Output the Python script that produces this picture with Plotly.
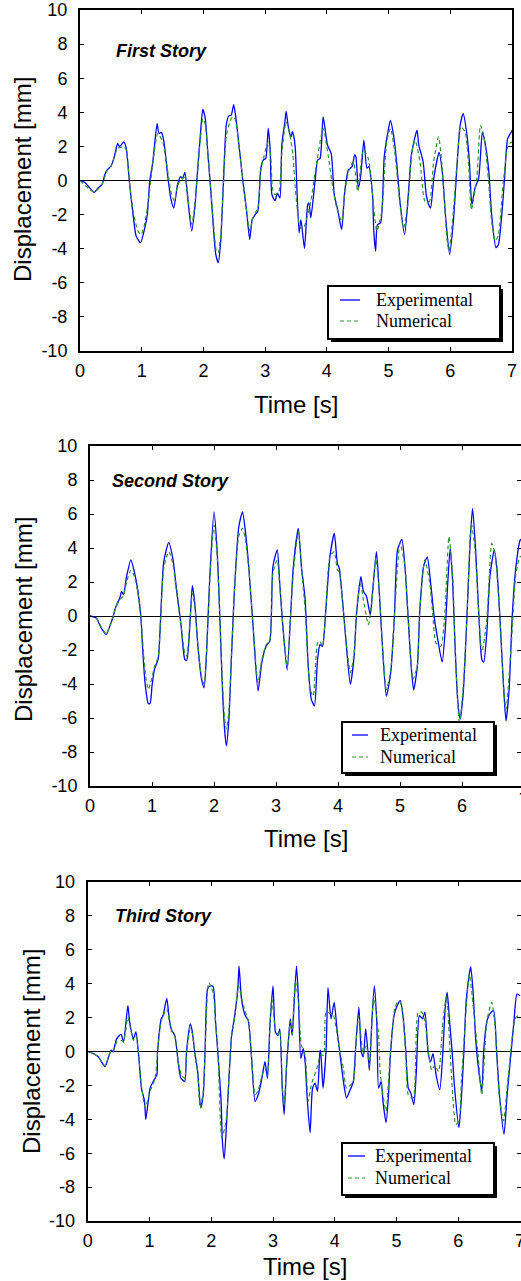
import plotly.graph_objects as go

# ---------------- data ----------------
t1_exp = [0, 0.076, 0.16, 0.23, 0.29, 0.36, 0.4, 0.44, 0.5, 0.55, 0.61, 0.64, 0.71, 0.75, 0.8, 0.86, 0.91, 0.98,
          1.05, 1.09, 1.13, 1.18, 1.25, 1.28, 1.32, 1.36, 1.42, 1.47, 1.52, 1.58, 1.63, 1.66, 1.70, 1.74, 1.81,
          1.86, 1.90, 1.95, 1.99, 2.03, 2.07, 2.12, 2.17, 2.20, 2.24, 2.28, 2.32, 2.37, 2.41, 2.45, 2.49, 2.52,
          2.57, 2.64, 2.70, 2.75, 2.79, 2.83, 2.88, 2.93, 2.97, 3.01, 3.05, 3.08, 3.11, 3.16, 3.20, 3.24, 3.27,
          3.32, 3.34, 3.38, 3.42, 3.44, 3.47, 3.49, 3.55, 3.58, 3.637, 3.69, 3.71, 3.74, 3.81, 3.85, 3.89, 3.94,
          4.01, 4.07, 4.12, 4.18, 4.24, 4.29, 4.35, 4.41, 4.45, 4.47, 4.51, 4.55, 4.6, 4.65, 4.68, 4.74, 4.76,
          4.79, 4.82, 4.87, 4.93, 4.99, 5.03, 5.08, 5.13, 5.19, 5.26, 5.32, 5.37, 5.46, 5.49, 5.56, 5.61, 5.65,
          5.68, 5.74, 5.82, 5.87, 5.93, 5.99, 6.05, 6.11, 6.16, 6.21, 6.27, 6.31, 6.35, 6.40, 6.46, 6.52, 6.56,
          6.62, 6.67, 6.74, 6.78, 6.83, 6.88, 6.93, 6.99, 7.0]
d1_exp = [0, -0.1, -0.45, -0.7, -0.45, -0.21, 0.33, 0.62, 0.85, 1.3, 2.17, 1.98, 2.27, 1.88, -0.06, -2.0, -3.26, -3.65,
          -2.78, -2.0, -0.06, 1.1, 3.34, 2.76, 2.82, 2.27, 0.33, -1.03, -1.61, -0.25, 0.23, 0.1, 0.47, -0.83, -2.97,
          -1.61, 0.33, 2.66, 4.17, 3.63, 1.69, -0.64, -3.17, -4.33, -4.82, -3.55, -0.45, 3.24, 3.79, 3.83, 4.45, 3.83,
          2.27, -0.06, -1.8, -3.46, -2.29, -2.04, -1.8, 0.72, 1.2, 1.3, 3.05, 1.88, -0.83, -1.18, -0.74, -1.03, 2.08,
          3.44, 4.06, 3.05, 2.56, 2.86, 2.47, 1.79, -3.07, -2.29, -3.98, -1.42, -1.32, -2.19, 0.0, 1.2, 1.3, 3.73,
          2.08, 1.59, -0.83, -1.8, -2.87, -0.64, 0.62, 0.82, 1.5, 1.4, -0.45, 0.33, 2.37, 0.72, 0.82, -0.83, -2.97,
          -4.14, -2.58, -2.49, 1.4, 2.85, 3.53, 2.66, 1.1, -1.42, -3.17, -0.83, 1.5, 2.95, 2.08, 1.1, -0.83, -1.42,
          -1.61, 0.33, 1.65, 0.52, -2.39, -4.33, -2.39, 0.91, 3.24, 3.92, 2.66, 1.1, -1.42, -0.45, 0.14, 2.85, 2.27,
          0.72, -2.0, -3.94, -3.75, -2.19, 0.14, 2.47, 2.85, 2.95]

t1_num = [0, 0.23, 0.36, 0.44, 0.5, 0.61, 0.71, 0.75, 0.80, 0.86, 0.94, 0.99, 1.05, 1.1, 1.18, 1.26, 1.34, 1.42,
          1.47, 1.53, 1.58, 1.64, 1.70, 1.74, 1.81, 1.86, 1.9, 1.95, 1.99, 2.03, 2.07, 2.12, 2.17, 2.21, 2.24,
          2.28, 2.32, 2.37, 2.45, 2.49, 2.53, 2.57, 2.64, 2.7, 2.75, 2.8, 2.88, 2.93, 2.98, 3.05, 3.09, 3.12, 3.16,
          3.22, 3.27, 3.34, 3.4, 3.45, 3.49, 3.57, 3.62, 3.73, 3.82, 3.94, 4.02, 4.1, 4.16, 4.24, 4.29, 4.36, 4.43,
          4.5, 4.59, 4.67, 4.74, 4.81, 4.89, 4.97, 5.03, 5.10, 5.17, 5.24, 5.30, 5.38, 5.43, 5.51, 5.59, 5.66,
          5.73, 5.81, 5.86, 5.95, 5.98, 6.05, 6.11, 6.17, 6.24, 6.3, 6.34, 6.43, 6.49, 6.55, 6.62, 6.67, 6.73,
          6.78, 6.86, 6.94, 7.0]
d1_num = [0, -0.68, -0.2, 0.58, 0.8, 1.88, 1.98, 1.8, -0.06, -1.8, -2.97, -3.17, -2.5, -1.42, 1.0, 2.76, 2.27, 0.6,
          -0.6, -1.22, -0.3, 0.04, 0.2, -0.7, -2.58, -1.5, 0.3, 2.4, 3.63, 3.3, 1.6, -0.5, -2.8, -4.14, -4.23,
          -3.2, -0.5, 2.6, 3.63, 3.75, 3.4, 2.2, 0.0, -1.8, -2.97, -2.2, -1.61, 0.6, 1.4, 2.27, 1.5, -0.5, -0.83,
          -0.7, 1.6, 3.44, 2.7, 1.5, -0.5, -2.78, -2.78, -1.42, 0.72, 3.05, 1.5, -0.5, -1.61, -2.39, -0.64, 0.6, 1.1,
          -0.64, 1.79, 1.3, -0.83, -2.97, -1.8, 2.27, 3.05, 1.69, -0.9, -2.78, -1.8, 1.69, 2.37, 1.1, -1.22, -1.22,
          1.1, 2.56, 1.1, -3.55, -4.14, -1.8, 1.1, 3.15, 2.85, 0.72, -1.71, 0.14, 3.24, 2.47, -0.06, -2.39, -3.55,
          -3.17, -0.06, 2.08, 2.27]

t2_exp = [0, 0.1, 0.18, 0.26, 0.32, 0.37, 0.42, 0.48, 0.51, 0.54, 0.59, 0.66, 0.72, 0.77, 0.82, 0.85, 0.89, 0.94,
          0.97, 1.0, 1.04, 1.1, 1.14, 1.19, 1.27, 1.34, 1.39, 1.47, 1.53, 1.56, 1.61, 1.65, 1.69, 1.74, 1.8, 1.84,
          1.88, 1.93, 2.0, 2.05, 2.09, 2.13, 2.17, 2.2, 2.24, 2.28, 2.33, 2.4, 2.46, 2.51, 2.56, 2.63, 2.71, 2.77,
          2.84, 2.9, 2.95, 3.02, 3.06, 3.11, 3.18, 3.24, 3.28, 3.36, 3.41, 3.47, 3.52, 3.57, 3.62, 3.67, 3.71,
          3.75, 3.8, 3.87, 3.94, 3.99, 4.02, 4.09, 4.14, 4.2, 4.26, 4.3, 4.37, 4.41, 4.46, 4.52, 4.56, 4.62, 4.66,
          4.72, 4.78, 4.85, 4.91, 4.96, 5.03, 5.08, 5.13, 5.18, 5.22, 5.28, 5.32, 5.38, 5.44, 5.5, 5.55, 5.61,
          5.68, 5.73, 5.77, 5.81, 5.85, 5.89, 5.93, 5.97, 6.02, 6.08, 6.13, 6.17, 6.22, 6.27, 6.32, 6.35, 6.4,
          6.45, 6.52, 6.56, 6.61, 6.67, 6.71, 6.76, 6.81, 6.87, 6.94, 6.97, 7.0]
d2_exp = [0, -0.12, -0.7, -1.09, -0.6, -0.06, 0.57, 1.05, 1.45, 1.25, 2.32, 3.3, 2.52, 1.54, -0.02, -1.97, -4.02,
          -5.14, -5.14, -4.12, -3.14, -2.52, -0.02, 3.2, 4.32, 3.3, 1.74, -0.6, -2.56, -2.6, -0.6, 1.78, 0.76, -1.78,
          -3.73, -4.22, -2.17, 2.13, 6.13, 3.89, 0.37, -3.73, -6.66, -7.64, -6.07, -2.56, 1.54, 5.25, 6.13, 4.86,
          2.91, -0.6, -4.41, -2.75, -1.78, -1.48, 2.91, 3.89, 1.93, -0.6, -3.18, 0.37, 2.91, 5.16, 2.91, 0.96,
          -2.95, -4.9, -5.29, -2.56, -1.68, -1.78, 0.18, 3.5, 4.86, 3.1, 2.81, 0.18, -1.97, -4.02, -2.36, 0.18, 2.32,
          1.45, 1.15, 0.08, 1.54, 3.79, 1.74, -1.97, -4.71, -3.34, -0.02, 3.89, 4.51, 2.91, -0.02, -2.95, -4.36,
          -2.95, 0.37, 2.91, 3.46, 1.74, -0.02, -1.39, -2.71, -0.8, 1.93, 3.98, 1.93, -1.97, -4.9, -6.07, -4.51,
          -0.02, 4.28, 6.33, 3.89, 0.18, -2.56, -2.71, -1.0, 2.32, 3.89, 2.91, -0.02, -4.12, -6.17, -4.32, -0.02,
          2.91, 4.47, 4.5, 4.4]

t2_num = [0, 0.1, 0.18, 0.26, 0.32, 0.37, 0.42, 0.48, 0.54, 0.59, 0.66, 0.72, 0.77, 0.82, 0.86, 0.9, 0.94, 0.98,
          1.04, 1.1, 1.14, 1.19, 1.27, 1.34, 1.39, 1.47, 1.53, 1.56, 1.61, 1.65, 1.69, 1.74, 1.8, 1.84, 1.88, 1.93,
          2.0, 2.05, 2.09, 2.13, 2.17, 2.2, 2.24, 2.28, 2.33, 2.4, 2.46, 2.51, 2.56, 2.63, 2.71, 2.77, 2.84, 2.9,
          2.95, 3.02, 3.06, 3.11, 3.18, 3.24, 3.28, 3.36, 3.41, 3.47, 3.55, 3.6, 3.67, 3.71, 3.75, 3.8, 3.87, 3.94,
          3.99, 4.02, 4.09, 4.14, 4.2, 4.26, 4.3, 4.36, 4.41, 4.49, 4.55, 4.61, 4.66, 4.72, 4.78, 4.85, 4.91, 5.0,
          5.08, 5.13, 5.21, 5.28, 5.32, 5.4, 5.48, 5.53, 5.58, 5.66, 5.72, 5.79, 5.85, 5.89, 5.96, 6.02, 6.08,
          6.15, 6.21, 6.27, 6.32, 6.4, 6.48, 6.53, 6.61, 6.67, 6.71, 6.8, 6.87, 6.94, 7.0]
d2_num = [0, -0.1, -0.65, -1.05, -0.6, -0.06, 0.55, 0.95, 1.2, 2.0, 2.7, 2.3, 1.4, -0.02, -2.0, -3.6, -4.32, -3.9,
          -3.0, -2.4, -0.1, 2.8, 3.79, 3.0, 1.6, -0.6, -2.2, -2.36, -0.4, 1.35, 0.6, -1.7, -3.6, -4.02, -2.0, 2.0,
          5.35, 3.6, 0.4, -3.4, -6.0, -6.66, -5.6, -2.4, 1.5, 4.7, 5.16, 4.4, 2.8, -0.5, -3.93, -2.6, -1.7, -1.45,
          2.5, 3.3, 1.8, -0.5, -2.95, 0.3, 2.6, 4.96, 2.9, 0.37, -4.32, -4.71, -1.58, -1.48, -1.78, 0.18, 3.5, 3.79,
          2.71, 2.6, 0.18, -1.8, -3.34, -2.2, 0.18, 1.93, 0.96, -0.51, 0.96, 3.4, 1.7, -1.9, -4.32, -3.2, -0.02, 4.28,
          2.91, -0.02, -3.73, -2.9, 0.37, 3.3, 1.93, 0.0, -1.58, -1.78, -0.02, 4.67, 2.32, -1.9, -6.46, -4.12, -0.02,
          5.45, 3.89, 0.18, -2.17, -0.21, 4.28, 3.69, -0.02, -4.12, -5.49, -1.39, 2.5, 3.5, 3.4]

t3_exp = [0, 0.09, 0.17, 0.28, 0.33, 0.38, 0.41, 0.47, 0.54, 0.58, 0.65, 0.68, 0.74, 0.78, 0.82, 0.87, 0.92, 0.94,
          0.98, 1.01, 1.06, 1.12, 1.13, 1.19, 1.22, 1.28, 1.32, 1.36, 1.41, 1.47, 1.51, 1.57, 1.6, 1.66, 1.69, 1.74,
          1.78, 1.83, 1.87, 1.9, 1.94, 1.98, 2.03, 2.07, 2.11, 2.16, 2.18, 2.21, 2.25, 2.29, 2.33, 2.38, 2.43,
          2.45, 2.49, 2.55, 2.6, 2.65, 2.71, 2.76, 2.81, 2.87, 2.91, 2.95, 3.0, 3.04, 3.08, 3.11, 3.15, 3.18, 3.22,
          3.26, 3.28, 3.31, 3.34, 3.38, 3.41, 3.45, 3.49, 3.52, 3.55, 3.6, 3.64, 3.68, 3.72, 3.76, 3.77, 3.81,
          3.86, 3.89, 3.94, 3.99, 4.04, 4.08, 4.14, 4.19, 4.24, 4.3, 4.34, 4.39, 4.43, 4.46, 4.5, 4.54, 4.56, 4.6,
          4.64, 4.68, 4.71, 4.75, 4.78, 4.83, 4.87, 4.9, 4.96, 5.01, 5.06, 5.11, 5.15, 5.19, 5.23, 5.28, 5.32,
          5.37, 5.42, 5.46, 5.51, 5.55, 5.59, 5.64, 5.7, 5.75, 5.79, 5.82, 5.86, 5.9, 5.94, 6.01, 6.05, 6.09, 6.13,
          6.2, 6.24, 6.28, 6.32, 6.38, 6.41, 6.46, 6.51, 6.57, 6.62, 6.67, 6.74, 6.79, 6.85, 6.9, 6.95, 7.0]
d3_exp = [0, -0.12, -0.31, -0.89, -0.41, 0.08, -0.02, 0.76, 1.01, 0.56, 2.7, 1.73, 0.76, 1.15, -0.02, -2.16, -2.94,
          -4.01, -2.94, -2.16, -1.77, -1.38, -0.02, 1.93, 2.12, 3.13, 1.93, 1.25, 0.95, -0.8, -1.58, -1.77, -0.02,
          1.63, 1.25, -0.21, -1.19, -3.33, -2.55, -0.02, 3.68, 3.87, 3.83, 1.73, -0.21, -2.94, -5.27, -6.34, -4.11,
          -1.38, 0.95, 2.12, 3.68, 5.04, 3.09, 2.12, 1.83, -0.21, -2.94, -2.55, -1.77, -0.6, -1.58, 1.54, 3.87, 1.15,
          0.95, 1.34, -2.16, -3.72, -0.8, 1.15, 1.93, 0.95, 2.7, 5.04, 3.29, -0.41, 0.18, -0.6, -2.55, -4.79, -2.16,
          -1.87, -2.35, -0.02, 0.08, -2.16, 0.18, 3.77, 1.93, 2.9, 1.15, -0.02, -1.77, -2.74, -2.35, -1.77, 0.37,
          2.61, -0.02, -0.31, 1.34, -0.21, -1.09, 1.73, 3.87, 1.73, -2.16, -1.77, -2.94, -4.2, -2.55, -0.21, 2.12,
          2.7, 3.0, 1.93, -0.02, -2.16, -2.45, -3.13, -1.19, 2.12, 1.93, 2.32, -0.02, -0.6, -0.12, -1.38, -2.26,
          -0.02, 2.7, 3.48, 1.73, -0.02, -2.16, -4.49, -2.74, -0.02, 3.09, 5.0, 3.48, 0.76, -0.8, -2.35, -0.02, 1.73,
          2.22, 2.41, -0.02, -2.74, -4.88, -2.55, -0.21, 1.73, 3.39, 3.29]

t3_num = [0, 0.09, 0.17, 0.28, 0.33, 0.38, 0.41, 0.47, 0.54, 0.58, 0.65, 0.68, 0.74, 0.78, 0.82, 0.87, 0.93, 0.97,
          1.01, 1.09, 1.13, 1.19, 1.28, 1.32, 1.36, 1.41, 1.47, 1.52, 1.57, 1.6, 1.66, 1.69, 1.74, 1.78, 1.82, 1.87,
          1.9, 1.96, 2.03, 2.07, 2.11, 2.17, 2.22, 2.25, 2.29, 2.33, 2.38, 2.44, 2.52, 2.6, 2.65, 2.71, 2.76, 2.81,
          2.87, 2.91, 2.95, 2.98, 3.04, 3.08, 3.11, 3.15, 3.18, 3.22, 3.26, 3.28, 3.31, 3.36, 3.41, 3.46, 3.52,
          3.57, 3.62, 3.71, 3.77, 3.82, 3.86, 3.94, 3.97, 4.04, 4.08, 4.14, 4.19, 4.3, 4.34, 4.39, 4.46, 4.51,
          4.56, 4.63, 4.71, 4.73, 4.78, 4.83, 4.89, 4.97, 5.03, 5.08, 5.15, 5.19, 5.27, 5.35, 5.41, 5.46, 5.53,
          5.57, 5.62, 5.68, 5.75, 5.81, 5.87, 5.96, 6.01, 6.05, 6.13, 6.18, 6.24, 6.32, 6.38, 6.45, 6.48, 6.54,
          6.6, 6.66, 6.73, 6.81, 6.92, 6.97, 7.0]
d3_num = [0, -0.12, -0.31, -0.85, -0.41, 0.05, 0.0, 0.56, 0.66, 0.6, 2.02, 1.6, 0.66, 0.9, -0.02, -2.0, -3.33, -2.9,
          -2.35, -1.58, -0.1, 1.8, 2.51, 1.8, 1.2, 0.9, -0.7, -1.38, -1.58, -0.1, 1.34, 1.1, -0.3, -1.2, -3.33, -2.4,
          -0.1, 4.07, 3.48, 1.7, -0.2, -5.08, -4.49, -3.8, -1.3, 0.9, 2.0, 3.87, 2.7, 1.8, -0.2, -2.55, -2.3, -1.6,
          -0.99, -1.4, 1.4, 3.09, 1.3, 1.0, 1.2, -2.0, -3.13, -0.8, 1.1, 1.8, 1.0, 4.16, 3.0, 0.37, -0.21, -2.94,
          -1.97, -0.99, -0.21, -0.21, 2.32, 2.22, 2.22, 1.0, 0.0, -0.99, -2.16, -1.77, 0.3, 2.12, -0.21, 0.37, -0.8,
          3.29, 0.95, -0.99, -2.55, -3.52, -0.6, 2.51, 3.0, 2.7, -0.21, -2.55, -2.74, 2.32, 2.32, 1.73, -0.41, -1.09,
          -0.8, -1.19, 1.73, 3.29, -0.21, -4.3, -4.1, -1.77, 2.7, 4.55, 2.7, -0.21, -2.55, 1.34, 2.12, 2.9, 1.34,
          -2.55, -4.1, -1.38, 1.93, 2.12, 2.02]

story_labels = ["First Story", "Second Story", "Third Story"]
series_names = ["Experimental", "Numerical"]
y_tick_vals = [-10, -8, -6, -4, -2, 0, 2, 4, 6, 8, 10]
y_tick_text = ["-10", "-8", "-6", "-4", "-2", "0", "2", "4", "6", "8", "10"]
x_tick_vals = [0, 1, 2, 3, 4, 5, 6, 7]
x_tick_text = ["0", "1", "2", "3", "4", "5", "6", "7"]

# ---------------- layout geometry (pixels) ----------------
W, H = 521, 1281
def fx(p):
    return p / W
def fy(p):
    return 1 - p / H

SANS = "Liberation Sans, Arial, sans-serif"
SERIF = "Liberation Serif, Times New Roman, serif"
BLUE = "#0000ff"
GREEN = "#2a962a"
STYLES = [dict(color=BLUE, width=1.3), dict(color=GREEN, width=1.2, dash="4px,3px")]

panels = [
    dict(left=80, right=512, top=10, bottom=351, xmax=7.0,
         box=(328, 286, 500, 339), sample=(340, 360), rows=(300, 321), textx=374,
         ytitle=(23, 180), xtitle=(296, 404), story=(114, 51)),
    dict(left=90, right=521, top=446, bottom=786, xmax=(521 - 90) / 62.0,
         box=(342, 722, 494, 773), sample=(352, 368), rows=(735, 757), textx=378,
         ytitle=(23, 620), xtitle=(306, 839), story=(110, 481)),
    dict(left=87.7, right=521, top=882, bottom=1221, xmax=(521 - 87.7) / 61.77,
         box=(342, 1143, 494, 1195), sample=(348, 365), rows=(1156, 1178), textx=373,
         ytitle=(31, 1052), xtitle=(305, 1266), story=(113, 916)),
]
data = [(t1_exp, d1_exp, t1_num, d1_num),
        (t2_exp, d2_exp, t2_num, d2_num),
        (t3_exp, d3_exp, t3_num, d3_num)]

fig = go.Figure()
annotations = []
shapes = []
layout_axes = {}

for i, (p, (te, de, tn, dn)) in enumerate(zip(panels, data)):
    k = "" if i == 0 else str(i + 1)
    for j, (tt, dd) in enumerate([(te, de), (tn, dn)]):
        fig.add_trace(go.Scatter(x=tt, y=dd, mode="lines", name=series_names[j],
                                 line=dict(STYLES[j], shape="spline", smoothing=0.6),
                                 xaxis="x" + k, yaxis="y" + k, showlegend=False))

    common = dict(showline=True, linecolor="black", linewidth=2, mirror="ticks",
                  ticks="inside", ticklen=4, tickwidth=1, tickcolor="black",
                  showgrid=False, automargin=False, ticklabeloverflow="allow",
                  tickfont=dict(family=SANS, size=18, color="black"))
    layout_axes["xaxis" + k] = dict(common, domain=[fx(p["left"]), fx(p["right"])],
                                    range=[0, p["xmax"]], anchor="y" + k,
                                    tickvals=x_tick_vals, ticktext=x_tick_text,
                                    zeroline=False, ticklabelstandoff=2)
    layout_axes["yaxis" + k] = dict(common, domain=[fy(p["bottom"]), fy(p["top"])],
                                    range=[-10, 10], anchor="x" + k,
                                    tickvals=y_tick_vals, ticktext=y_tick_text,
                                    zeroline=True, zerolinecolor="black", zerolinewidth=1,
                                    ticklabelstandoff=7)

    # legend box (with drop shadow) drawn in paper space
    bx0, by0, bx1, by1 = p["box"]
    shapes.append(dict(type="rect", xref="paper", yref="paper", layer="above",
                       x0=fx(bx0 + 3), x1=fx(bx1 + 3), y0=fy(by1 + 3), y1=fy(by0 + 3),
                       fillcolor="black", line=dict(width=0)))
    shapes.append(dict(type="rect", xref="paper", yref="paper", layer="above",
                       x0=fx(bx0), x1=fx(bx1), y0=fy(by1), y1=fy(by0),
                       fillcolor="white", line=dict(color="black", width=2)))
    for j in range(2):
        shapes.append(dict(type="line", xref="paper", yref="paper", layer="above",
                           x0=fx(p["sample"][0]), x1=fx(p["sample"][1]),
                           y0=fy(p["rows"][j]), y1=fy(p["rows"][j]),
                           line=STYLES[j]))
        annotations.append(dict(text=series_names[j], x=fx(p["textx"]), y=fy(p["rows"][j]),
                                xref="paper", yref="paper", showarrow=False,
                                xanchor="left", yanchor="middle",
                                font=dict(family=SERIF, size=18, color="black")))

    annotations.append(dict(text="Displacement [mm]", x=fx(p["ytitle"][0]), y=fy(p["ytitle"][1]),
                            xref="paper", yref="paper", showarrow=False, textangle=-90,
                            xanchor="center", yanchor="middle",
                            font=dict(family=SANS, size=24, color="black")))
    annotations.append(dict(text="Time [s]", x=fx(p["xtitle"][0]), y=fy(p["xtitle"][1]),
                            xref="paper", yref="paper", showarrow=False,
                            xanchor="center", yanchor="middle",
                            font=dict(family=SANS, size=24, color="black")))
    annotations.append(dict(text="<b><i>" + story_labels[i] + "</i></b>",
                            x=fx(p["story"][0]), y=fy(p["story"][1]),
                            xref="paper", yref="paper", showarrow=False,
                            xanchor="left", yanchor="middle",
                            font=dict(family=SANS, size=18, color="black")))

# partially visible "7" tick label of panel 2 (its axis end lies beyond the page edge)
annotations.append(dict(text="7", x=fx(90 + 7 * 62.0), y=fy(800), xref="paper", yref="paper",
                        showarrow=False, xanchor="center", yanchor="middle",
                        font=dict(family=SANS, size=18, color="black")))

fig.update_layout(
    width=W, height=H, margin=dict(l=0, r=0, t=0, b=0, autoexpand=False),
    paper_bgcolor="white", plot_bgcolor="white", showlegend=False,
    annotations=annotations, shapes=shapes, **layout_axes,
)

fig.write_html("out.html")
